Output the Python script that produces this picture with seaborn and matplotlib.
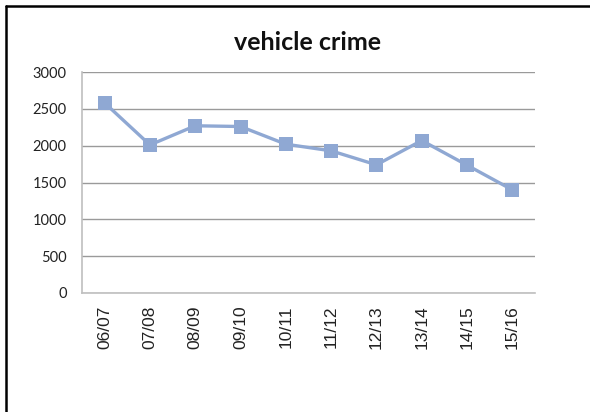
import matplotlib
matplotlib.use("Agg")
import matplotlib.pyplot as plt
from matplotlib.lines import Line2D
from matplotlib.ticker import FixedLocator
import seaborn as sns
import pandas as pd

# data
years = ["06/07", "07/08", "08/09", "09/10", "10/11",
         "11/12", "12/13", "13/14", "14/15", "15/16"]
crimes = [2580, 2010, 2270, 2260, 2020, 1930, 1740, 2070, 1735, 1400]
y_ticks = [0, 500, 1000, 1500, 2000, 2500, 3000]

df = pd.DataFrame({"year": years, "crimes": crimes})

sns.set_style("white")
plt.rcParams["font.family"] = ["Lato", "DejaVu Sans"]

fig = plt.figure(figsize=(5.9, 4.12), dpi=100)
ax = fig.add_axes([82 / 590, 1 - 293 / 412, 453 / 590, 221 / 412])

line_col = "#8FA8D3"
sns.lineplot(data=df, x="year", y="crimes", sort=False, ax=ax,
             color=line_col, linewidth=2.4, marker="s", markersize=10.5,
             markeredgecolor=line_col, markeredgewidth=0)

ax.set_xlim(-0.5, len(years) - 0.5)
ax.set_ylim(0, 3000)
ax.set_yticks(y_ticks)
ax.set_yticklabels([str(v) for v in y_ticks], fontsize=10.5, color="#222222")
ax.set_xticks(range(len(years)))
ax.set_xticklabels(years, rotation=90, fontsize=12.5, color="#222222",
                   family=["Liberation Sans", "DejaVu Sans"])
ax.xaxis.set_minor_locator(FixedLocator([i - 0.5 for i in range(len(years) + 1)]))
ax.tick_params(axis="x", which="major", length=0, pad=9)
ax.tick_params(axis="x", which="minor", length=5, color="#BFBFBF", width=1)
ax.tick_params(axis="y", length=5, color="#9A9A9A", width=1, pad=6)

ax.yaxis.grid(True, color="#9A9A9A", linewidth=1)
ax.set_axisbelow(True)
for side in ["top", "right"]:
    ax.spines[side].set_visible(False)
ax.spines["left"].set_color("#BFBFBF")
ax.spines["bottom"].set_color("#BFBFBF")
ax.spines["left"].set_linewidth(1.2)
ax.spines["bottom"].set_linewidth(1.2)
ax.set_xlabel("")
ax.set_ylabel("")

fig.text(308 / 590, 1 - 42 / 412, "vehicle crime", ha="center", va="center",
         fontsize=18, fontweight="bold", color="#111111")

# frame of the chart box (top and left edges visible)
fig.add_artist(Line2D([6 / 590, 1], [1 - 6 / 412, 1 - 6 / 412],
                      transform=fig.transFigure, color="black", linewidth=1.8))
fig.add_artist(Line2D([6 / 590, 6 / 590], [0, 1 - 6 / 412],
                      transform=fig.transFigure, color="black", linewidth=1.8))

fig.savefig("out.png", dpi=100)
